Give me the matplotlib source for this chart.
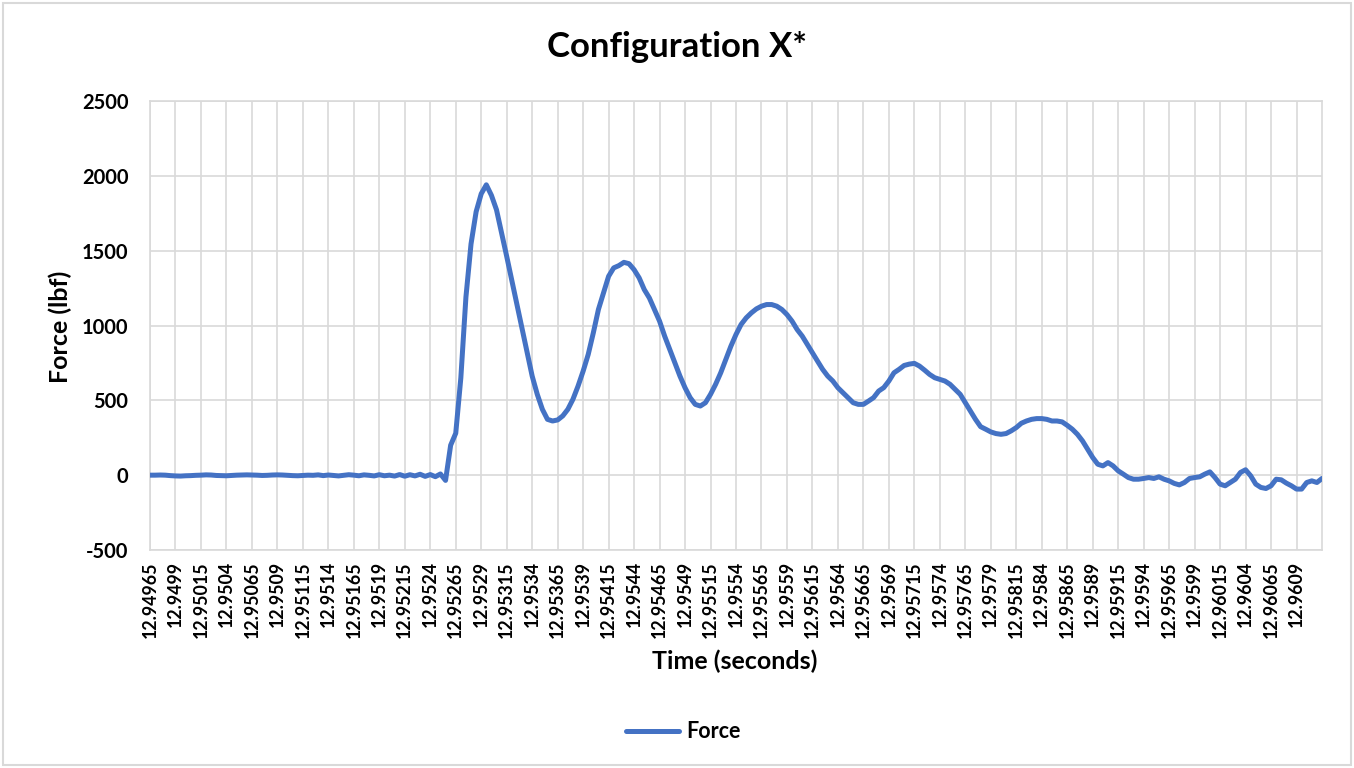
import numpy as np
import matplotlib
matplotlib.use("Agg")
import matplotlib.pyplot as plt
from matplotlib.patches import Rectangle

# sampled force trace (lbf), one value every 0.00005 s starting at 12.94965 s
t_start = 12.94965
t_step = 0.00005
force = [
    0, 0, 1, 0, -3, -5, -6, -4, -3, -1,
    0, 2, 1, -2, -3, -4, -2, 0, 1, 2,
    1, 0, -2, -1, 1, 2, 1, -1, -3, -4,
    -2, 0, -1, 2, -3, 1, -2, -5, -1, 3,
    0, -4, 2, -1, -5, 3, -4, 0, -6, 4,
    -7, 3, -5, 6, -8, 4, -10, 8, -35, 200,
    280, 650, 1190, 1545, 1760, 1880, 1940, 1870, 1773, 1619,
    1462, 1303, 1142, 982, 822, 662, 540, 440, 373, 362,
    369, 396, 440, 507, 595, 695, 807, 951, 1107, 1218,
    1329, 1385, 1400, 1422, 1413, 1373, 1318, 1240, 1184, 1107,
    1029, 929, 840, 751, 662, 584, 518, 473, 462, 484,
    540, 607, 684, 773, 862, 940, 1007, 1051, 1084, 1111,
    1129, 1140, 1140, 1129, 1107, 1073, 1029, 973, 929, 873,
    818, 762, 707, 662, 629, 584, 551, 518, 484, 473,
    473, 495, 518, 562, 585, 629, 684, 707, 733, 742,
    747, 729, 702, 673, 651, 640, 629, 607, 573, 540,
    484, 429, 373, 324, 307, 289, 278, 273, 278, 296,
    318, 347, 362, 373, 378, 378, 373, 362, 362, 356,
    333, 307, 273, 229, 173, 118, 73, 62, 84, 62,
    29, 7, -16, -27, -27, -22, -16, -22, -11, -27,
    -38, -55, -65, -49, -22, -16, -11, 7, 22, -16,
    -60, -71, -49, -27, 18, 36, -4, -60, -82, -89,
    -71, -27, -31, -53, -71, -93, -93, -49, -38, -49,
    -22,
]
times = t_start + t_step * np.arange(len(force))

# category labels every 5th sample, as on the original axis
tick_step = 0.00025
n_ticks = 46
tick_pos = [t_start + tick_step * k for k in range(n_ticks)]
tick_labels = [f"{round(v, 5):.5f}".rstrip("0") for v in tick_pos]

y_ticks = [-500, 0, 500, 1000, 1500, 2000, 2500]

W, H = 1354, 768
plt.rcParams["font.family"] = ["Lato", "DejaVu Sans"]
fig = plt.figure(figsize=(W / 100, H / 100), dpi=100)

ax = fig.add_axes([150 / W, 1 - 550 / H, 1172 / W, 449 / H])
ax.plot(times, force, color="#4472C4", linewidth=3.6, solid_capstyle="round",
        solid_joinstyle="round", label="Force", zorder=3)

ax.set_xlim(times[0], times[-1])
ax.set_ylim(-500, 2500)
ax.set_yticks(y_ticks)
ax.set_yticklabels([str(v) for v in y_ticks], fontsize=14.5, fontweight="bold")
ax.set_xticks(tick_pos)
ax.set_xticklabels(tick_labels, rotation=90, fontsize=12.8, fontweight="bold")
ax.tick_params(axis="x", length=0, pad=8)
ax.tick_params(axis="y", length=0, pad=15.5)
ax.grid(True, color="#d9d9d9", linewidth=1.2, zorder=0)
for s in ax.spines.values():
    s.set_color("#d9d9d9")
    s.set_linewidth(1.2)

fig.text(677 / W, 1 - 47 / H, "Configuration X*", ha="center", va="center",
         fontsize=25, fontweight="bold")
fig.text(735 / W, 1 - 661 / H, "Time (seconds)", ha="center", va="center",
         fontsize=18, fontweight="bold")
fig.text(60 / W, 1 - 327 / H, "Force (lbf)", ha="center", va="center",
         fontsize=18, fontweight="bold", rotation=90)

fig.legend(loc="center", bbox_to_anchor=(683 / W, 1 - 732 / H), frameon=False,
           prop={"size": 15.5, "weight": "bold"}, handlelength=2.5, handletextpad=0.3)

fig.patches.append(Rectangle((3 / W, 3 / H), (W - 6) / W, (H - 6) / H,
                             transform=fig.transFigure, fill=False,
                             edgecolor="#d9d9d9", linewidth=1.5))

fig.savefig("out.png", dpi=100)
